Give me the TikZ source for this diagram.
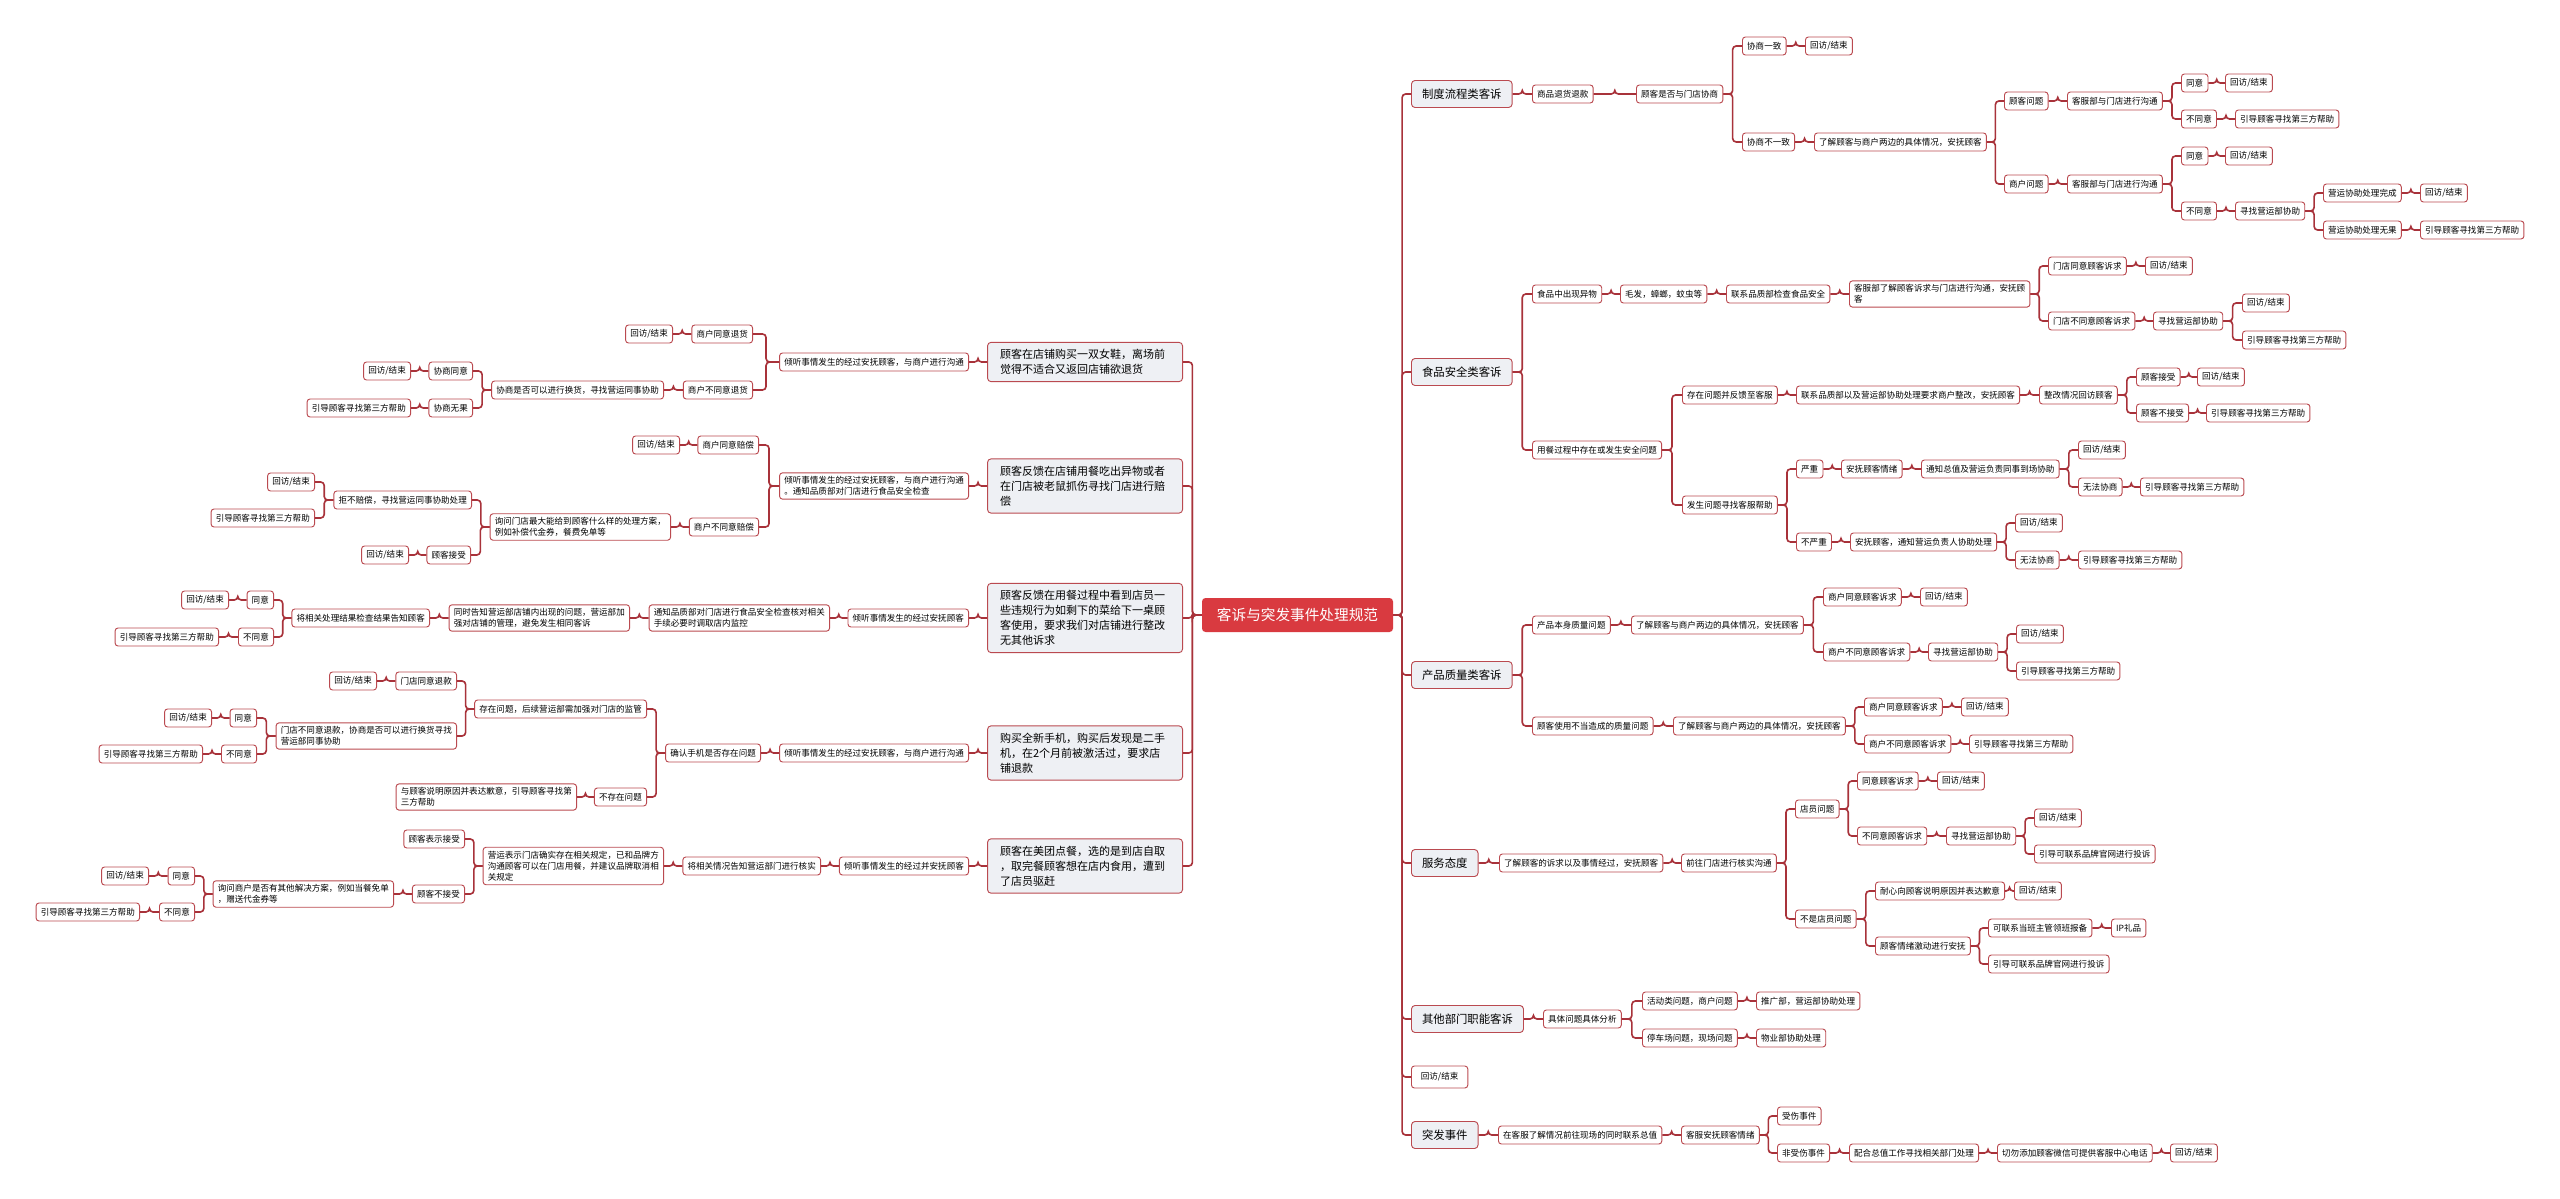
\documentclass[tikz,border=0pt]{standalone}
\usepackage{fontspec}
\setmainfont{Noto Sans CJK SC}
\usetikzlibrary{calc}

\definecolor{linkred}{HTML}{A8323A}
\definecolor{boxred}{HTML}{BA4A50}
\definecolor{rootred}{HTML}{D93A40}
\definecolor{topfill}{HTML}{EEF0F4}

\begin{document}
\begin{tikzpicture}[
    x=0.3mm, y=-0.3mm,
    root/.style={fill=rootred, text=white, rounded corners=3pt, font=\fontsize{12.5}{14}\selectfont, minimum width=57.3mm, minimum height=10.2mm},
    top/.style={draw=boxred, line width=0.8pt, fill=topfill, rounded corners=3pt, font=\fontsize{9.7}{12}\selectfont, inner xsep=9pt, minimum height=8.1mm},
    big/.style={draw=boxred, line width=0.8pt, fill=topfill, rounded corners=3pt, font=\fontsize{9.4}{12.8}\selectfont, text width=51mm, align=left, inner xsep=3.75mm, inner ysep=2.1mm},
    box/.style={draw=boxred, line width=0.8pt, fill=white, rounded corners=2.5pt, font=\fontsize{7.3}{9.6}\selectfont, align=left, inner xsep=4pt, inner ysep=3pt, minimum height=5.4mm},
    link/.style={draw=linkred, line width=1.4pt, rounded corners=3pt,
        to path={let \p1=(\tikztostart), \p2=(\tikztotarget) in
            -- ({0.5*\x1+0.5*\x2},\y1) |- (\tikztotarget)}}
]

    \useasboundingbox (0,0) rectangle (2560,1199);

    % 1. 中心主题
    \node[root] (R) at (1297.5,615) {客诉与突发事件处理规范};

    % 2. 右侧：制度流程类客诉
    \node[top, anchor=west] (A)   at (1411,94)  {制度流程类客诉};
    \node[box, anchor=west] (A1)  at (1532,94)  {商品退货退款};
    \node[box, anchor=west] (A2)  at (1636,94)  {顾客是否与门店协商};
    \node[box, anchor=west] (A3)  at (1742,46)  {协商一致};
    \node[box, anchor=west] (A4)  at (1805,46)  {回访/结束};
    \node[box, anchor=west] (A5)  at (1742,142) {协商不一致};
    \node[box, anchor=west] (A6)  at (1814,142) {了解顾客与商户两边的具体情况，安抚顾客};
    \node[box, anchor=west] (A7)  at (2004,101) {顾客问题};
    \node[box, anchor=west] (A8)  at (2067,101) {客服部与门店进行沟通};
    \node[box, anchor=west] (A9)  at (2181,83)  {同意};
    \node[box, anchor=west] (A10) at (2225,83)  {回访/结束};
    \node[box, anchor=west] (A11) at (2181,119) {不同意};
    \node[box, anchor=west] (A12) at (2235,119) {引导顾客寻找第三方帮助};
    \node[box, anchor=west] (A13) at (2004,184) {商户问题};
    \node[box, anchor=west] (A14) at (2067,184) {客服部与门店进行沟通};
    \node[box, anchor=west] (A15) at (2181,156) {同意};
    \node[box, anchor=west] (A16) at (2225,156) {回访/结束};
    \node[box, anchor=west] (A17) at (2181,211) {不同意};
    \node[box, anchor=west] (A18) at (2235,211) {寻找营运部协助};
    \node[box, anchor=west] (A19) at (2323,193) {营运协助处理完成};
    \node[box, anchor=west] (A20) at (2420,193) {回访/结束};
    \node[box, anchor=west] (A21) at (2323,230) {营运协助处理无果};
    \node[box, anchor=west] (A22) at (2420,230) {引导顾客寻找第三方帮助};

    \draw[link] (R.east)   to (A.west);
    \draw[link] (A.east)   to (A1.west);
    \draw[link] (A1.east)  to (A2.west);
    \draw[link] (A2.east)  to (A3.west);
    \draw[link] (A3.east)  to (A4.west);
    \draw[link] (A2.east)  to (A5.west);
    \draw[link] (A5.east)  to (A6.west);
    \draw[link] (A6.east)  to (A7.west);
    \draw[link] (A7.east)  to (A8.west);
    \draw[link] (A8.east)  to (A9.west);
    \draw[link] (A9.east)  to (A10.west);
    \draw[link] (A8.east)  to (A11.west);
    \draw[link] (A11.east) to (A12.west);
    \draw[link] (A6.east)  to (A13.west);
    \draw[link] (A13.east) to (A14.west);
    \draw[link] (A14.east) to (A15.west);
    \draw[link] (A15.east) to (A16.west);
    \draw[link] (A14.east) to (A17.west);
    \draw[link] (A17.east) to (A18.west);
    \draw[link] (A18.east) to (A19.west);
    \draw[link] (A19.east) to (A20.west);
    \draw[link] (A18.east) to (A21.west);
    \draw[link] (A21.east) to (A22.west);

    % 3. 右侧：食品安全类客诉
    \node[top, anchor=west] (B)   at (1411,372) {食品安全类客诉};
    \node[box, anchor=west] (B1)  at (1532,294) {食品中出现异物};
    \node[box, anchor=west] (B2)  at (1620,294) {毛发，蟑螂，蚊虫等};
    \node[box, anchor=west] (B3)  at (1726,294) {联系品质部检查食品安全};
    \node[box, anchor=west] (B4)  at (1849,294) {客服部了解顾客诉求与门店进行沟通，安抚顾\\客};
    \node[box, anchor=west] (B5)  at (2048,266) {门店同意顾客诉求};
    \node[box, anchor=west] (B6)  at (2145,266) {回访/结束};
    \node[box, anchor=west] (B7)  at (2048,321) {门店不同意顾客诉求};
    \node[box, anchor=west] (B8)  at (2153,321) {寻找营运部协助};
    \node[box, anchor=west] (B9)  at (2242,303) {回访/结束};
    \node[box, anchor=west] (B10) at (2242,340) {引导顾客寻找第三方帮助};
    \node[box, anchor=west] (B11) at (1532,450) {用餐过程中存在或发生安全问题};
    \node[box, anchor=west] (B12) at (1682,395) {存在问题并反馈至客服};
    \node[box, anchor=west] (B13) at (1796,395) {联系品质部以及营运部协助处理要求商户整改，安抚顾客};
    \node[box, anchor=west] (B14) at (2039,395) {整改情况回访顾客};
    \node[box, anchor=west] (B15) at (2136,377) {顾客接受};
    \node[box, anchor=west] (B16) at (2197,377) {回访/结束};
    \node[box, anchor=west] (B17) at (2136,413) {顾客不接受};
    \node[box, anchor=west] (B18) at (2206,413) {引导顾客寻找第三方帮助};
    \node[box, anchor=west] (B19) at (1682,505) {发生问题寻找客服帮助};
    \node[box, anchor=west] (B20) at (1796,469) {严重};
    \node[box, anchor=west] (B21) at (1841,469) {安抚顾客情绪};
    \node[box, anchor=west] (B22) at (1921,469) {通知总值及营运负责同事到场协助};
    \node[box, anchor=west] (B23) at (2078,450) {回访/结束};
    \node[box, anchor=west] (B24) at (2078,487) {无法协商};
    \node[box, anchor=west] (B25) at (2140,487) {引导顾客寻找第三方帮助};
    \node[box, anchor=west] (B26) at (1796,542) {不严重};
    \node[box, anchor=west] (B27) at (1850,542) {安抚顾客，通知营运负责人协助处理};
    \node[box, anchor=west] (B28) at (2015,523) {回访/结束};
    \node[box, anchor=west] (B29) at (2015,560) {无法协商};
    \node[box, anchor=west] (B30) at (2078,560) {引导顾客寻找第三方帮助};

    \draw[link] (R.east)   to (B.west);
    \draw[link] (B.east)   to (B1.west);
    \draw[link] (B1.east)  to (B2.west);
    \draw[link] (B2.east)  to (B3.west);
    \draw[link] (B3.east)  to (B4.west);
    \draw[link] (B4.east)  to (B5.west);
    \draw[link] (B5.east)  to (B6.west);
    \draw[link] (B4.east)  to (B7.west);
    \draw[link] (B7.east)  to (B8.west);
    \draw[link] (B8.east)  to (B9.west);
    \draw[link] (B8.east)  to (B10.west);
    \draw[link] (B.east)   to (B11.west);
    \draw[link] (B11.east) to (B12.west);
    \draw[link] (B12.east) to (B13.west);
    \draw[link] (B13.east) to (B14.west);
    \draw[link] (B14.east) to (B15.west);
    \draw[link] (B15.east) to (B16.west);
    \draw[link] (B14.east) to (B17.west);
    \draw[link] (B17.east) to (B18.west);
    \draw[link] (B11.east) to (B19.west);
    \draw[link] (B19.east) to (B20.west);
    \draw[link] (B20.east) to (B21.west);
    \draw[link] (B21.east) to (B22.west);
    \draw[link] (B22.east) to (B23.west);
    \draw[link] (B22.east) to (B24.west);
    \draw[link] (B24.east) to (B25.west);
    \draw[link] (B19.east) to (B26.west);
    \draw[link] (B26.east) to (B27.west);
    \draw[link] (B27.east) to (B28.west);
    \draw[link] (B27.east) to (B29.west);
    \draw[link] (B29.east) to (B30.west);

    % 4. 右侧：产品质量类客诉
    \node[top, anchor=west] (C)   at (1411,675) {产品质量类客诉};
    \node[box, anchor=west] (C1)  at (1532,625) {产品本身质量问题};
    \node[box, anchor=west] (C2)  at (1631,625) {了解顾客与商户两边的具体情况，安抚顾客};
    \node[box, anchor=west] (C3)  at (1823,597) {商户同意顾客诉求};
    \node[box, anchor=west] (C4)  at (1920,597) {回访/结束};
    \node[box, anchor=west] (C5)  at (1823,652) {商户不同意顾客诉求};
    \node[box, anchor=west] (C6)  at (1928,652) {寻找营运部协助};
    \node[box, anchor=west] (C7)  at (2016,634) {回访/结束};
    \node[box, anchor=west] (C8)  at (2016,671) {引导顾客寻找第三方帮助};
    \node[box, anchor=west] (C9)  at (1532,726) {顾客使用不当造成的质量问题};
    \node[box, anchor=west] (C10) at (1673,726) {了解顾客与商户两边的具体情况，安抚顾客};
    \node[box, anchor=west] (C11) at (1864,707) {商户同意顾客诉求};
    \node[box, anchor=west] (C12) at (1961,707) {回访/结束};
    \node[box, anchor=west] (C13) at (1864,744) {商户不同意顾客诉求};
    \node[box, anchor=west] (C14) at (1969,744) {引导顾客寻找第三方帮助};

    \draw[link] (R.east)   to (C.west);
    \draw[link] (C.east)   to (C1.west);
    \draw[link] (C1.east)  to (C2.west);
    \draw[link] (C2.east)  to (C3.west);
    \draw[link] (C3.east)  to (C4.west);
    \draw[link] (C2.east)  to (C5.west);
    \draw[link] (C5.east)  to (C6.west);
    \draw[link] (C6.east)  to (C7.west);
    \draw[link] (C6.east)  to (C8.west);
    \draw[link] (C.east)   to (C9.west);
    \draw[link] (C9.east)  to (C10.west);
    \draw[link] (C10.east) to (C11.west);
    \draw[link] (C11.east) to (C12.west);
    \draw[link] (C10.east) to (C13.west);
    \draw[link] (C13.east) to (C14.west);

    % 5. 右侧：服务态度
    \node[top, anchor=west] (D)   at (1411,863) {服务态度};
    \node[box, anchor=west] (D1)  at (1499,863) {了解顾客的诉求以及事情经过，安抚顾客};
    \node[box, anchor=west] (D2)  at (1681,863) {前往门店进行核实沟通};
    \node[box, anchor=west] (D3)  at (1795,809) {店员问题};
    \node[box, anchor=west] (D4)  at (1857,781) {同意顾客诉求};
    \node[box, anchor=west] (D5)  at (1937,781) {回访/结束};
    \node[box, anchor=west] (D6)  at (1857,836) {不同意顾客诉求};
    \node[box, anchor=west] (D7)  at (1946,836) {寻找营运部协助};
    \node[box, anchor=west] (D8)  at (2034,818) {回访/结束};
    \node[box, anchor=west] (D9)  at (2034,854) {引导可联系品牌官网进行投诉};
    \node[box, anchor=west] (D10) at (1795,919) {不是店员问题};
    \node[box, anchor=west] (D11) at (1875,891) {耐心向顾客说明原因并表达歉意};
    \node[box, anchor=west] (D12) at (2014,891) {回访/结束};
    \node[box, anchor=west] (D13) at (1875,946) {顾客情绪激动进行安抚};
    \node[box, anchor=west] (D14) at (1988,928) {可联系当班主管领班报备};
    \node[box, anchor=west] (D15) at (2111,928) {IP礼品};
    \node[box, anchor=west] (D16) at (1988,964) {引导可联系品牌官网进行投诉};

    \draw[link] (R.east)   to (D.west);
    \draw[link] (D.east)   to (D1.west);
    \draw[link] (D1.east)  to (D2.west);
    \draw[link] (D2.east)  to (D3.west);
    \draw[link] (D3.east)  to (D4.west);
    \draw[link] (D4.east)  to (D5.west);
    \draw[link] (D3.east)  to (D6.west);
    \draw[link] (D6.east)  to (D7.west);
    \draw[link] (D7.east)  to (D8.west);
    \draw[link] (D7.east)  to (D9.west);
    \draw[link] (D2.east)  to (D10.west);
    \draw[link] (D10.east) to (D11.west);
    \draw[link] (D11.east) to (D12.west);
    \draw[link] (D10.east) to (D13.west);
    \draw[link] (D13.east) to (D14.west);
    \draw[link] (D14.east) to (D15.west);
    \draw[link] (D13.east) to (D16.west);

    % 6. 右侧：其他部门职能客诉、回访、突发事件
    \node[top, anchor=west] (E)  at (1411,1019) {其他部门职能客诉};
    \node[box, anchor=west] (E1) at (1543,1019) {具体问题具体分析};
    \node[box, anchor=west] (E2) at (1642,1001) {活动类问题，商户问题};
    \node[box, anchor=west] (E3) at (1756,1001) {推广部，营运部协助处理};
    \node[box, anchor=west] (E4) at (1642,1038) {停车场问题，现场问题};
    \node[box, anchor=west] (E5) at (1756,1038) {物业部协助处理};

    \node[box, anchor=west, inner xsep=8pt, minimum height=6.6mm] (F) at (1411,1077) {回访/结束};

    \node[top, anchor=west] (G)  at (1411,1135) {突发事件};
    \node[box, anchor=west] (G1) at (1498,1135) {在客服了解情况前往现场的同时联系总值};
    \node[box, anchor=west] (G2) at (1681,1135) {客服安抚顾客情绪};
    \node[box, anchor=west] (G3) at (1777,1116) {受伤事件};
    \node[box, anchor=west] (G4) at (1777,1153) {非受伤事件};
    \node[box, anchor=west] (G5) at (1849,1153) {配合总值工作寻找相关部门处理};
    \node[box, anchor=west] (G6) at (1997,1153) {切勿添加顾客微信可提供客服中心电话};
    \node[box, anchor=west] (G7) at (2170,1153) {回访/结束};

    \draw[link] (R.east)  to (E.west);
    \draw[link] (E.east)  to (E1.west);
    \draw[link] (E1.east) to (E2.west);
    \draw[link] (E2.east) to (E3.west);
    \draw[link] (E1.east) to (E4.west);
    \draw[link] (E4.east) to (E5.west);
    \draw[link] (R.east)  to (F.west);
    \draw[link] (R.east)  to (G.west);
    \draw[link] (G.east)  to (G1.west);
    \draw[link] (G1.east) to (G2.west);
    \draw[link] (G2.east) to (G3.west);
    \draw[link] (G2.east) to (G4.west);
    \draw[link] (G4.east) to (G5.west);
    \draw[link] (G5.east) to (G6.west);
    \draw[link] (G6.east) to (G7.west);

    % 7. 左侧：退货
    \node[big, anchor=east] (L1)  at (1183,362) {顾客在店铺购买一双女鞋，离场前\\觉得不适合又返回店铺欲退货};
    \node[box, anchor=east] (L11) at (969,362)  {倾听事情发生的经过安抚顾客，与商户进行沟通};
    \node[box, anchor=east] (L12) at (753,334)  {商户同意退货};
    \node[box, anchor=east] (L13) at (673,334)  {回访/结束};
    \node[box, anchor=east] (L14) at (753,390)  {商户不同意退货};
    \node[box, anchor=east] (L15) at (664,390)  {协商是否可以进行换货，寻找营运同事协助};
    \node[box, anchor=east] (L16) at (473,371)  {协商同意};
    \node[box, anchor=east] (L17) at (411,371)  {回访/结束};
    \node[box, anchor=east] (L18) at (473,408)  {协商无果};
    \node[box, anchor=east] (L19) at (411,408)  {引导顾客寻找第三方帮助};

    \draw[link] (R.west)   to (L1.east);
    \draw[link] (L1.west)  to (L11.east);
    \draw[link] (L11.west) to (L12.east);
    \draw[link] (L12.west) to (L13.east);
    \draw[link] (L11.west) to (L14.east);
    \draw[link] (L14.west) to (L15.east);
    \draw[link] (L15.west) to (L16.east);
    \draw[link] (L16.west) to (L17.east);
    \draw[link] (L15.west) to (L18.east);
    \draw[link] (L18.west) to (L19.east);

    % 8. 左侧：赔偿
    \node[big, anchor=east] (L2)  at (1183,486) {顾客反馈在店铺用餐吃出异物或者\\在门店被老鼠抓伤寻找门店进行赔\\偿};
    \node[box, anchor=east] (L21) at (969,486)  {倾听事情发生的经过安抚顾客，与商户进行沟通\\。通知品质部对门店进行食品安全检查};
    \node[box, anchor=east] (L22) at (759,445)  {商户同意赔偿};
    \node[box, anchor=east] (L23) at (680,445)  {回访/结束};
    \node[box, anchor=east] (L24) at (759,527)  {商户不同意赔偿};
    \node[box, anchor=east] (L25) at (671,527)  {询问门店最大能给到顾客什么样的处理方案，\\例如补偿代金券，餐费免单等};
    \node[box, anchor=east] (L26) at (472,500)  {拒不赔偿，寻找营运同事协助处理};
    \node[box, anchor=east] (L27) at (315,482)  {回访/结束};
    \node[box, anchor=east] (L28) at (315,518)  {引导顾客寻找第三方帮助};
    \node[box, anchor=east] (L29) at (471,555)  {顾客接受};
    \node[box, anchor=east] (L30) at (409,555)  {回访/结束};

    \draw[link] (R.west)   to (L2.east);
    \draw[link] (L2.west)  to (L21.east);
    \draw[link] (L21.west) to (L22.east);
    \draw[link] (L22.west) to (L23.east);
    \draw[link] (L21.west) to (L24.east);
    \draw[link] (L24.west) to (L25.east);
    \draw[link] (L25.west) to (L26.east);
    \draw[link] (L26.west) to (L27.east);
    \draw[link] (L26.west) to (L28.east);
    \draw[link] (L25.west) to (L29.east);
    \draw[link] (L29.west) to (L30.east);

    % 9. 左侧：店员违规
    \node[big, anchor=east] (L3)  at (1183,618) {顾客反馈在用餐过程中看到店员一\\些违规行为如剩下的菜给下一桌顾\\客使用，要求我们对店铺进行整改\\无其他诉求};
    \node[box, anchor=east] (L31) at (969,618)  {倾听事情发生的经过安抚顾客};
    \node[box, anchor=east] (L32) at (830,618)  {通知品质部对门店进行食品安全检查核对相关\\手续必要时调取店内监控};
    \node[box, anchor=east] (L33) at (630,618)  {同时告知营运部店铺内出现的问题，营运部加\\强对店铺的管理，避免发生相同客诉};
    \node[box, anchor=east] (L34) at (430,618)  {将相关处理结果检查结果告知顾客};
    \node[box, anchor=east] (L35) at (274,600)  {同意};
    \node[box, anchor=east] (L36) at (229,600)  {回访/结束};
    \node[box, anchor=east] (L37) at (274,637)  {不同意};
    \node[box, anchor=east] (L38) at (219,637)  {引导顾客寻找第三方帮助};

    \draw[link] (R.west)   to (L3.east);
    \draw[link] (L3.west)  to (L31.east);
    \draw[link] (L31.west) to (L32.east);
    \draw[link] (L32.west) to (L33.east);
    \draw[link] (L33.west) to (L34.east);
    \draw[link] (L34.west) to (L35.east);
    \draw[link] (L35.west) to (L36.east);
    \draw[link] (L34.west) to (L37.east);
    \draw[link] (L37.west) to (L38.east);

    % 10. 左侧：二手手机
    \node[big, anchor=east] (L4)  at (1183,753) {购买全新手机，购买后发现是二手\\机，在2个月前被激活过，要求店\\铺退款};
    \node[box, anchor=east] (L41) at (969,753)  {倾听事情发生的经过安抚顾客，与商户进行沟通};
    \node[box, anchor=east] (L42) at (761,753)  {确认手机是否存在问题};
    \node[box, anchor=east] (L43) at (647,709)  {存在问题，后续营运部需加强对门店的监管};
    \node[box, anchor=east] (L44) at (457,681)  {门店同意退款};
    \node[box, anchor=east] (L45) at (377,681)  {回访/结束};
    \node[box, anchor=east] (L46) at (457,736)  {门店不同意退款，协商是否可以进行换货寻找\\营运部同事协助};
    \node[box, anchor=east] (L47) at (257,718)  {同意};
    \node[box, anchor=east] (L48) at (212,718)  {回访/结束};
    \node[box, anchor=east] (L49) at (257,754)  {不同意};
    \node[box, anchor=east] (L50) at (203,754)  {引导顾客寻找第三方帮助};
    \node[box, anchor=east] (L51) at (647,797)  {不存在问题};
    \node[box, anchor=east] (L52) at (577,797)  {与顾客说明原因并表达歉意，引导顾客寻找第\\三方帮助};

    \draw[link] (R.west)   to (L4.east);
    \draw[link] (L4.west)  to (L41.east);
    \draw[link] (L41.west) to (L42.east);
    \draw[link] (L42.west) to (L43.east);
    \draw[link] (L43.west) to (L44.east);
    \draw[link] (L44.west) to (L45.east);
    \draw[link] (L43.west) to (L46.east);
    \draw[link] (L46.west) to (L47.east);
    \draw[link] (L47.west) to (L48.east);
    \draw[link] (L46.west) to (L49.east);
    \draw[link] (L49.west) to (L50.east);
    \draw[link] (L42.west) to (L51.east);
    \draw[link] (L51.west) to (L52.east);

    % 11. 左侧：美团自取
    \node[big, anchor=east] (L5)  at (1183,866) {顾客在美团点餐，选的是到店自取\\，取完餐顾客想在店内食用，遭到\\了店员驱赶};
    \node[box, anchor=east] (L53) at (969,866)  {倾听事情发生的经过并安抚顾客};
    \node[box, anchor=east] (L54) at (821,866)  {将相关情况告知营运部门进行核实};
    \node[box, anchor=east] (L55) at (664,866)  {营运表示门店确实存在相关规定，已和品牌方\\沟通顾客可以在门店用餐，并建议品牌取消相\\关规定};
    \node[box, anchor=east] (L56) at (465,839)  {顾客表示接受};
    \node[box, anchor=east] (L57) at (465,894)  {顾客不接受};
    \node[box, anchor=east] (L58) at (394,894)  {询问商户是否有其他解决方案，例如当餐免单\\，赠送代金券等};
    \node[box, anchor=east] (L59) at (195,876)  {同意};
    \node[box, anchor=east] (L60) at (149,876)  {回访/结束};
    \node[box, anchor=east] (L61) at (195,912)  {不同意};
    \node[box, anchor=east] (L62) at (140,912)  {引导顾客寻找第三方帮助};

    \draw[link] (R.west)   to (L5.east);
    \draw[link] (L5.west)  to (L53.east);
    \draw[link] (L53.west) to (L54.east);
    \draw[link] (L54.west) to (L55.east);
    \draw[link] (L55.west) to (L56.east);
    \draw[link] (L55.west) to (L57.east);
    \draw[link] (L57.west) to (L58.east);
    \draw[link] (L58.west) to (L59.east);
    \draw[link] (L59.west) to (L60.east);
    \draw[link] (L58.west) to (L61.east);
    \draw[link] (L61.west) to (L62.east);

\end{tikzpicture}
\end{document}
